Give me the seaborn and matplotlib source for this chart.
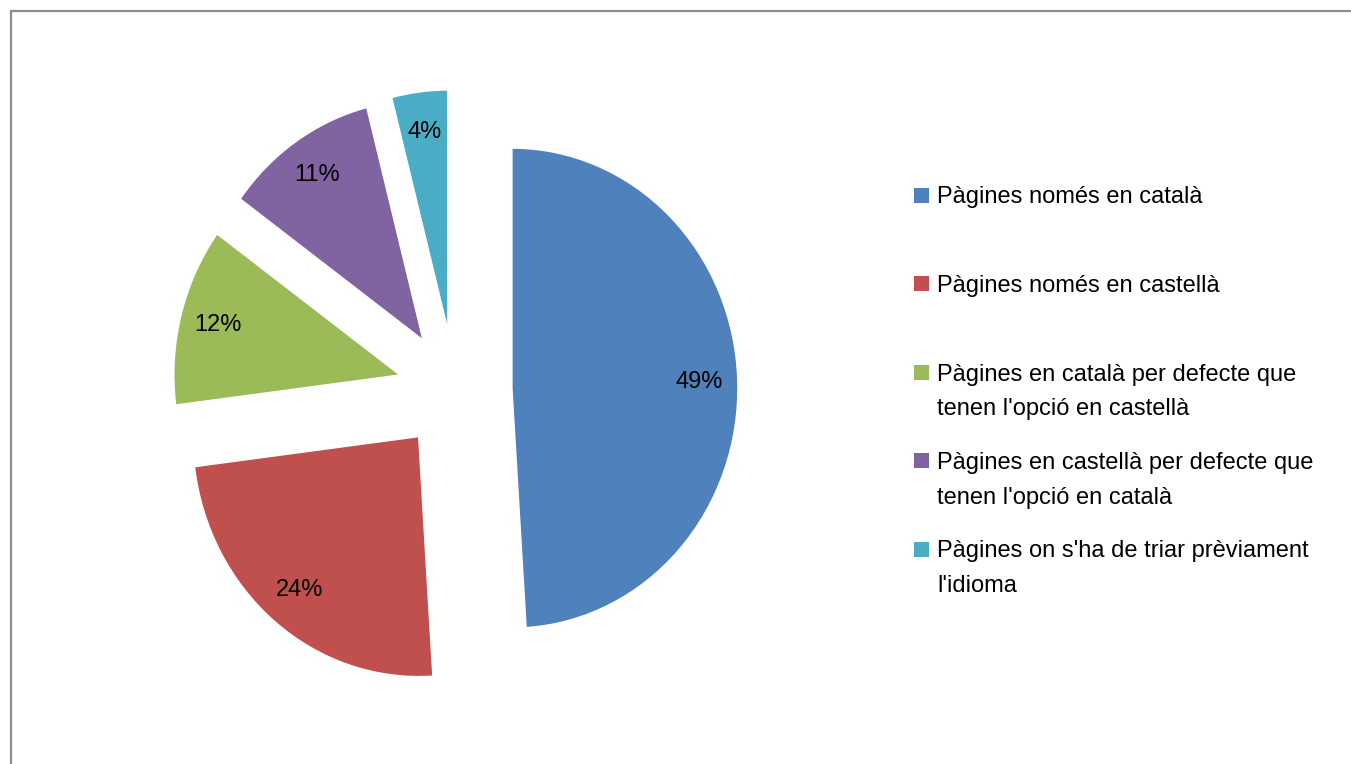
import matplotlib
matplotlib.use("Agg")
import matplotlib.pyplot as plt
import seaborn as sns
from matplotlib.patches import Rectangle
from matplotlib.lines import Line2D

sns.set_theme(style="white")
plt.rcParams["font.family"] = ["Liberation Sans Narrow", "Liberation Sans", "DejaVu Sans"]

# data
labels = [
    "Pàgines només en català",
    "Pàgines només en castellà",
    "Pàgines en català per defecte que\ntenen l'opció en castellà",
    "Pàgines en castellà per defecte que\ntenen l'opció en català",
    "Pàgines on s'ha de triar prèviament\nl'idioma",
]
values = [49, 24, 12, 11, 4]
colors = ["#4F81BD", "#C0504D", "#9BBB59", "#8064A2", "#4BACC6"]

W, H = 1351, 764
fig = plt.figure(figsize=(W / 100, H / 100), dpi=100)

# pie axes: centre at (455, 390) px, the source image is slightly squeezed
# horizontally, so radius is 226 px across and 240 px down
cx, cy, rx, ry, lim = 455, 390, 226, 240, 1.4
hx, hy = rx * lim, ry * lim
ax = fig.add_axes([(cx - hx) / W, (H - cy - hy) / H, 2 * hx / W, 2 * hy / H])
ax.pie(values, colors=colors, startangle=90, counterclock=False,
       explode=[0.252] * len(values), autopct="%1.0f%%", pctdistance=0.83,
       textprops={"fontsize": 17, "color": "black"})
ax.set_xlim(-lim, lim)
ax.set_ylim(-lim, lim)
ax.set_aspect("auto")
ax.axis("off")

# legend, drawn by hand so the marker sits on the first line
lx, ly0, step, line_h = 937, 195, 88.5, 35
for i, (lab, col) in enumerate(zip(labels, colors)):
    y = ly0 + i * step
    fig.add_artist(Rectangle(((lx - 23) / W, (H - y - 7.5) / H), 15 / W, 15 / H,
                             transform=fig.transFigure, color=col, lw=0))
    for j, line in enumerate(lab.split("\n")):
        fig.text(lx / W, (H - y - j * line_h) / H, line, fontsize=17,
                 va="center_baseline", ha="left", color="black")

# chart border (Excel frame)
for xs, ys in [([10.5 / W, 1.0], [1 - 10.5 / H] * 2), ([10.5 / W] * 2, [0.0, 1 - 10.5 / H])]:
    fig.add_artist(Line2D(xs, ys, transform=fig.transFigure, color="#8c8c8c", lw=1.6))

fig.savefig("out.png", dpi=100)
